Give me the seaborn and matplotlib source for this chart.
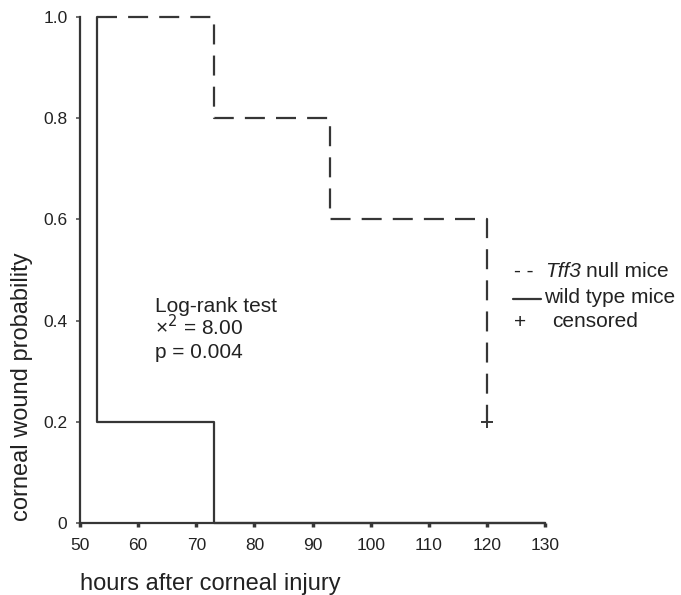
import matplotlib
matplotlib.use("Agg")
import matplotlib.pyplot as plt
import seaborn as sns
import pandas as pd

# Data
tff3_hours = [53, 73, 93, 120]
tff3_prob = [1.0, 0.8, 0.6, 0.2]
wt_hours = [53, 53, 73, 130]
wt_prob = [1.0, 0.2, 0.0, 0.0]
censored_hours = [120]
censored_prob = [0.2]
x_ticks = [50, 60, 70, 80, 90, 100, 110, 120, 130]
y_ticks = [0, 0.2, 0.4, 0.6, 0.8, 1.0]
y_ticklabels = ["0", "0.2", "0.4", "0.6", "0.8", "1.0"]

sns.set_theme(style="white")
plt.rcParams["font.family"] = ["Liberation Sans", "DejaVu Sans"]

W, H = 681, 595
fig = plt.figure(figsize=(W / 100, H / 100), dpi=100)
left, right, bottom, top = 80, 545, 523, 17
ax = fig.add_axes([left / W, 1 - bottom / H, (right - left) / W, (bottom - top) / H])

col = "#363636"
tcol = "#222222"
tff3_df = pd.DataFrame({"hours": tff3_hours, "prob": tff3_prob})
wt_df = pd.DataFrame({"hours": wt_hours, "prob": wt_prob})

sns.lineplot(data=tff3_df, x="hours", y="prob", estimator=None, sort=False, ax=ax,
             drawstyle="steps-post", color=col, lw=1.6, linestyle=(0, (9, 5)), clip_on=False)
sns.lineplot(data=wt_df, x="hours", y="prob", estimator=None, sort=False, ax=ax,
             drawstyle="steps-post", color=col, lw=1.6, clip_on=False)
ax.plot(censored_hours, censored_prob, marker="+", ms=9, mew=1.4, color=col,
        linestyle="none", clip_on=False)

ax.set_xlim(50, 130)
ax.set_ylim(0, 1.0)
ax.set_xticks(x_ticks)
ax.set_yticks(y_ticks)
ax.set_yticklabels(y_ticklabels)
ax.set_xlabel("")
ax.set_ylabel("")

for s in ["top", "right"]:
    ax.spines[s].set_visible(False)
for s in ["left", "bottom"]:
    ax.spines[s].set_color(col)
    ax.spines[s].set_linewidth(1.6)

ax.tick_params(axis="x", which="major", bottom=True, length=3, width=2.5, color=col,
               labelsize=12.5, labelcolor=tcol, pad=7.5, direction="out")
ax.tick_params(axis="y", which="major", left=True, length=3, width=1.2, color="#555555",
               labelsize=12.5, labelcolor=tcol, pad=6, direction="out")

# Axis labels
fig.text(22 / W, 1 - 521 / H, "corneal wound probability", rotation=90,
         ha="center", va="bottom", fontsize=17, color=tcol)
fig.text(80 / W, 1 - 590 / H, "hours after corneal injury", ha="left", va="baseline",
         fontsize=17, color=tcol)

# Annotation
fs = 15
fig.text(155 / W, 1 - 312 / H, "Log-rank test", ha="left", va="baseline", fontsize=fs, color=tcol)
fig.text(155 / W, 1 - 335 / H, "×$^{2}$ = 8.00", ha="left", va="baseline", fontsize=fs, color=tcol)
fig.text(155 / W, 1 - 358 / H, "p = 0.004", ha="left", va="baseline", fontsize=fs, color=tcol)

# Legend as text
fig.text(514 / W, 1 - 277 / H, "- -", ha="left", va="baseline", fontsize=fs, color=tcol)
fig.text(545 / W, 1 - 277 / H, "Tff3", ha="left", va="baseline", fontsize=fs, color=tcol, style="italic")
fig.text(586 / W, 1 - 277 / H, "null mice", ha="left", va="baseline", fontsize=fs, color=tcol)
fig.add_artist(plt.Line2D([513 / W, 541 / W], [1 - 299 / H, 1 - 299 / H], color=col, lw=1.6,
                          transform=fig.transFigure))
fig.text(544 / W, 1 - 303 / H, "wild type mice", ha="left", va="baseline", fontsize=fs, color=tcol)
fig.text(520 / W, 1 - 322 / H, "+", ha="center", va="center", fontsize=fs, color=tcol)
fig.text(552 / W, 1 - 327 / H, "censored", ha="left", va="baseline", fontsize=fs, color=tcol)

fig.savefig("out.png", dpi=100, facecolor="white")
